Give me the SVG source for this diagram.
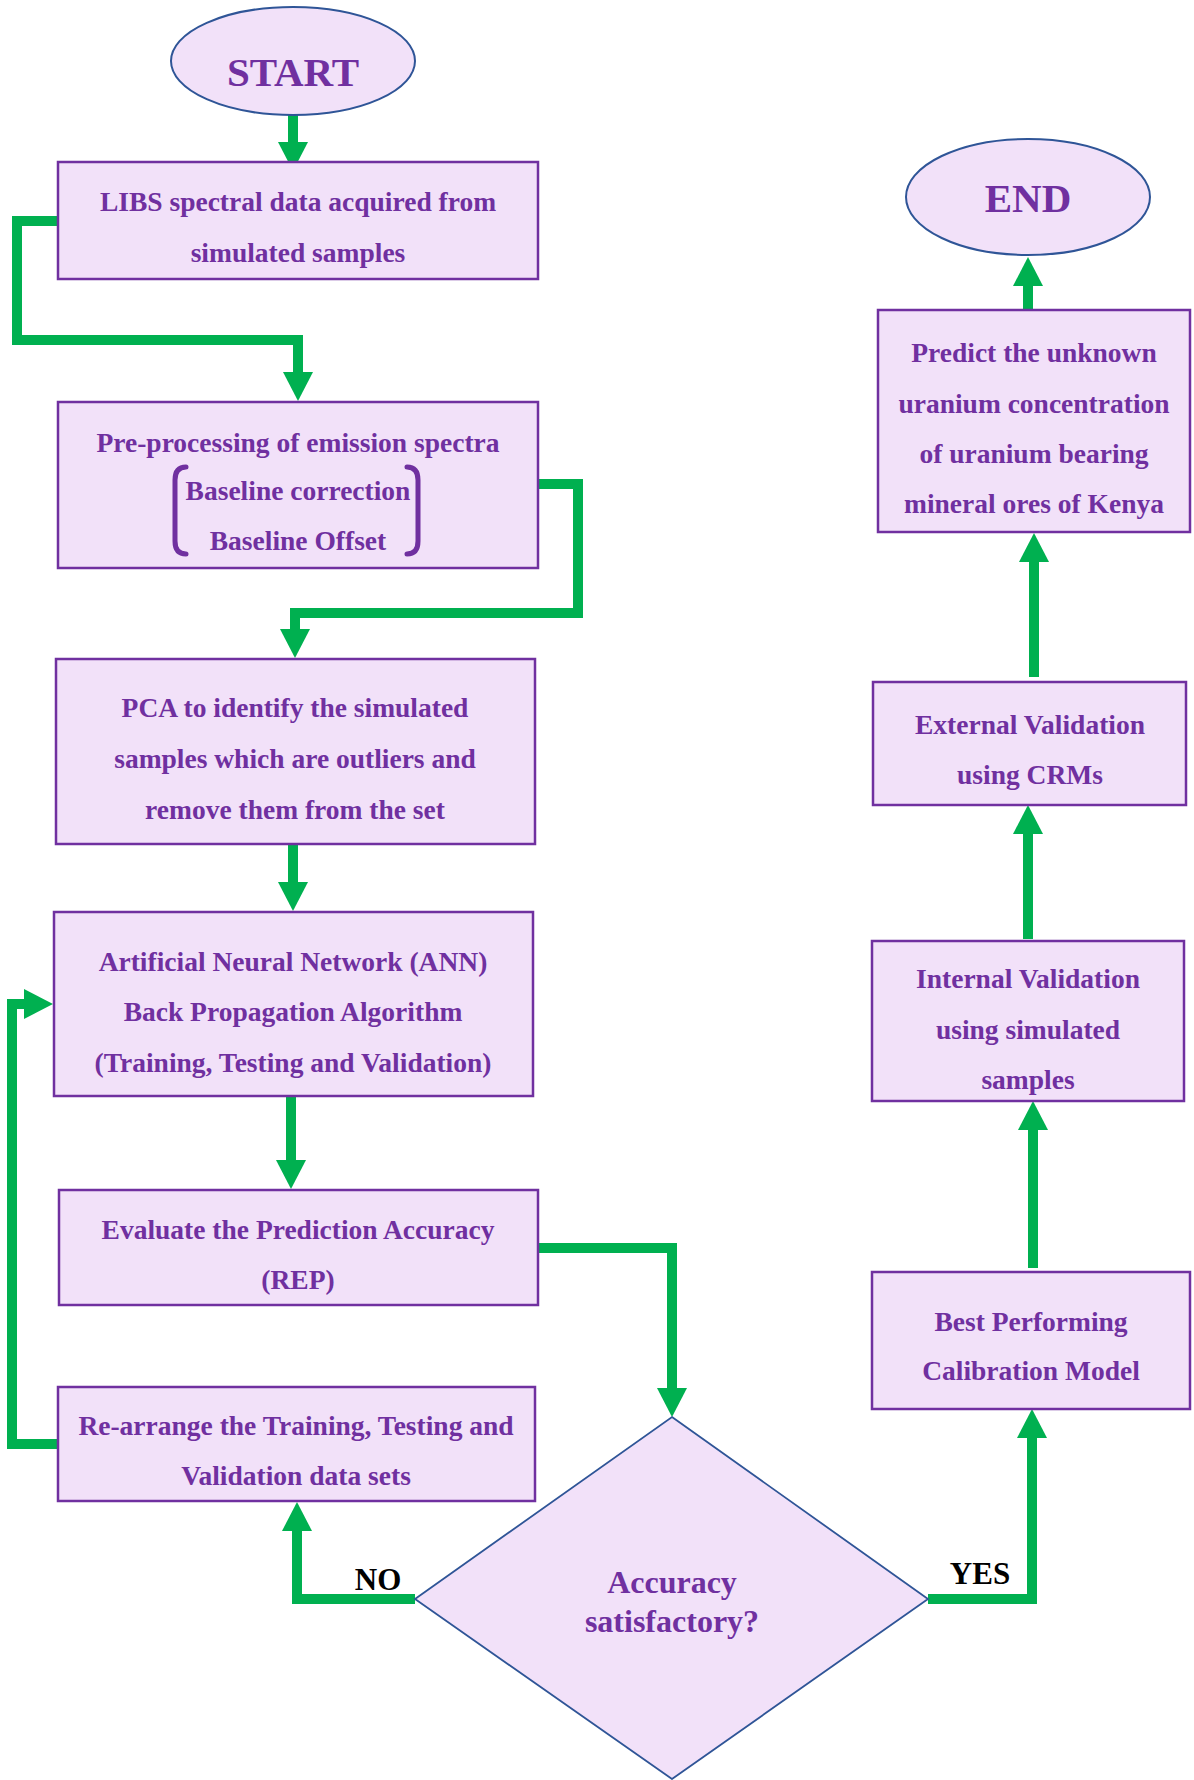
<svg xmlns="http://www.w3.org/2000/svg" width="1194" height="1780" viewBox="0 0 1194 1780">
<style>
.box{fill:#F2E1F9;stroke:#7030A0;stroke-width:2.5}
.term{fill:#F2E1F9;stroke:#2F5597;stroke-width:2}
.t{font-family:"Liberation Serif","Times New Roman",serif;font-weight:bold;font-size:27.5px;fill:#7030A0;text-anchor:middle}
.big{font-size:41px}
.dia{font-size:32px}
.lbl{font-family:"Liberation Serif","Times New Roman",serif;font-weight:bold;font-size:31px;fill:#000;text-anchor:middle}
.c{fill:none;stroke:#00B050;stroke-width:10;stroke-linejoin:miter}
.br{fill:none;stroke:#7030A0;stroke-width:5;stroke-linecap:round}
</style>
<defs>
<marker id="ah" viewBox="0 0 29 30" markerWidth="29" markerHeight="30" markerUnits="userSpaceOnUse" refX="0" refY="15" orient="auto">
<path d="M0,0 L29,15 L0,30 z" fill="#00B050"/>
</marker>
</defs>
<rect width="1194" height="1780" fill="#fff"/>

<g id="connectors">
<path class="c" d="M293,115 V142" marker-end="url(#ah)"/>
<path class="c" d="M58,221 H17 V340 H298 V372" marker-end="url(#ah)"/>
<path class="c" d="M538,484 H578 V613 H295 V629" marker-end="url(#ah)"/>
<path class="c" d="M293,844 V882" marker-end="url(#ah)"/>
<path class="c" d="M291,1096 V1160" marker-end="url(#ah)"/>
<path class="c" d="M538,1248 H672 V1388" marker-end="url(#ah)"/>
<path class="c" d="M415,1599 H297 V1531" marker-end="url(#ah)"/>
<path class="c" d="M58,1444 H12 V1004 H24" marker-end="url(#ah)"/>
<path class="c" d="M928,1599 H1032 V1438" marker-end="url(#ah)"/>
<path class="c" d="M1033,1268 V1130" marker-end="url(#ah)"/>
<path class="c" d="M1028,939 V834" marker-end="url(#ah)"/>
<path class="c" d="M1034,677 V562" marker-end="url(#ah)"/>
<path class="c" d="M1028,310 V286" marker-end="url(#ah)"/>
<text class="lbl" x="378" y="1590">NO</text>
<text class="lbl" x="980" y="1584">YES</text>
</g>

<g id="start">
<ellipse class="term" cx="293" cy="61" rx="122" ry="54"/>
<text class="t big" x="293" y="86">START</text>
</g>

<g id="libs">
<rect class="box" x="58" y="162" width="480" height="117"/>
<text class="t" x="298" y="211">LIBS spectral data acquired from</text>
<text class="t" x="298" y="262">simulated samples</text>
</g>

<g id="preprocessing">
<rect class="box" x="58" y="402" width="480" height="166"/>
<text class="t" x="298" y="452">Pre-processing of emission spectra</text>
<path class="br" d="M186,467 Q175,467 175,480 V541 Q175,554 186,554"/>
<path class="br" d="M407,467 Q418,467 418,480 V541 Q418,554 407,554"/>
<text class="t" x="298" y="500">Baseline correction</text>
<text class="t" x="298" y="550">Baseline Offset</text>
</g>

<g id="pca">
<rect class="box" x="56" y="659" width="479" height="185"/>
<text class="t" x="295" y="717">PCA to identify the simulated</text>
<text class="t" x="295" y="768">samples which are outliers and</text>
<text class="t" x="295" y="819">remove them from the set</text>
</g>

<g id="ann">
<rect class="box" x="54" y="912" width="479" height="184"/>
<text class="t" x="293" y="971">Artificial Neural Network (ANN)</text>
<text class="t" x="293" y="1021">Back Propagation Algorithm</text>
<text class="t" x="293" y="1072">(Training, Testing and Validation)</text>
</g>

<g id="evaluate">
<rect class="box" x="59" y="1190" width="479" height="115"/>
<text class="t" x="298" y="1239">Evaluate the Prediction Accuracy</text>
<text class="t" x="298" y="1289">(REP)</text>
</g>

<g id="rearrange">
<rect class="box" x="58" y="1387" width="477" height="114"/>
<text class="t" x="296" y="1435">Re-arrange the Training, Testing and</text>
<text class="t" x="296" y="1485">Validation data sets</text>
</g>

<g id="decision">
<path class="term" style="stroke-width:1.8" d="M672,1417 L928,1599 L672,1779 L415,1599 z"/>
<text class="t dia" x="672" y="1593">Accuracy</text>
<text class="t dia" x="672" y="1632">satisfactory?</text>
</g>

<g id="best">
<rect class="box" x="872" y="1272" width="318" height="137"/>
<text class="t" x="1031" y="1331">Best Performing</text>
<text class="t" x="1031" y="1380">Calibration Model</text>
</g>

<g id="internal">
<rect class="box" x="872" y="941" width="312" height="160"/>
<text class="t" x="1028" y="988">Internal Validation</text>
<text class="t" x="1028" y="1039">using simulated</text>
<text class="t" x="1028" y="1089">samples</text>
</g>

<g id="external">
<rect class="box" x="873" y="682" width="313" height="123"/>
<text class="t" x="1030" y="734">External Validation</text>
<text class="t" x="1030" y="784">using CRMs</text>
</g>

<g id="predict">
<rect class="box" x="878" y="310" width="312" height="222"/>
<text class="t" x="1034" y="362">Predict the unknown</text>
<text class="t" x="1034" y="413">uranium concentration</text>
<text class="t" x="1034" y="463">of uranium bearing</text>
<text class="t" x="1034" y="513">mineral ores of Kenya</text>
</g>

<g id="end">
<ellipse class="term" cx="1028" cy="197" rx="122" ry="58"/>
<text class="t big" x="1028" y="212">END</text>
</g>
</svg>
